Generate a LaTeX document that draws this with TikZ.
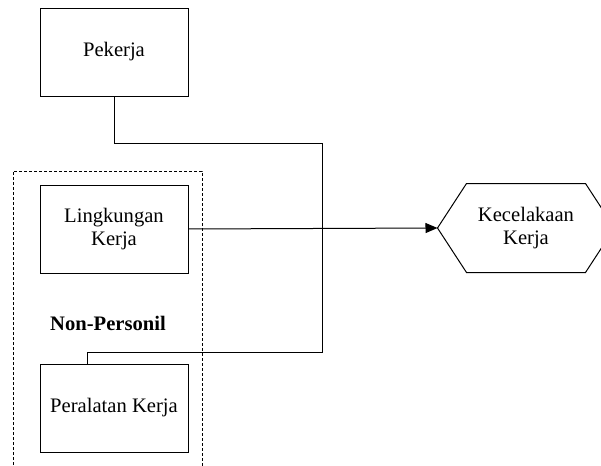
\documentclass[tikz,border=0pt]{standalone}
\usepackage{fontspec}
\setmainfont{Liberation Serif}
\usepackage{tikz}
\usetikzlibrary{positioning}
\usetikzlibrary{arrows.meta}

\begin{document}
\begin{tikzpicture}[x=0.5pt, y=-0.5pt, line width=0.5pt,
    font=\fontsize{10.3}{11.8}\selectfont,
    box/.style={draw, rectangle, minimum width=74pt, minimum height=44pt, inner sep=0pt, align=center},
    link/.style={draw}]

    \useasboundingbox (0,0) rectangle (601,466);

    \node [box] (pek) at (114,52) {Pekerja};
    \node [box, below=44pt of pek] (lingk) {Lingkungan\\Kerja};
    \node [box, below=45pt of lingk] (peral) {Peralatan Kerja};
    \node [font=\fontsize{10.3}{11.8}\selectfont\bfseries] (np) at (108,323) {Non-Personil};

    \draw [dash pattern=on 1.5pt off 1pt] (13,480) -- (13,171) -- (202,171) -- (202,480);

    \node [minimum width=59pt, minimum height=44pt, inner sep=0pt, align=center] (kec) at (526,228) {Kecelakaan\\Kerja};
    \coordinate [left=14.5pt of kec.west] (kecw);
    \coordinate [right=14.5pt of kec.east] (kece);
    \draw (kec.north west) -- (kec.north east) -- (kece) -- (kec.south east) -- (kec.south west) -- (kecw) -- cycle;

    \coordinate (t1) at (322,143);
    \coordinate (t2) at (322,352);

    \draw [-{Triangle[length=6pt, width=5pt]}] (lingk.east) -- (kecw);
    \draw [link] (pek.south) |- (t1) -- (t2) -| ([xshift=-13.5pt]peral.north);

\end{tikzpicture}
\end{document}
